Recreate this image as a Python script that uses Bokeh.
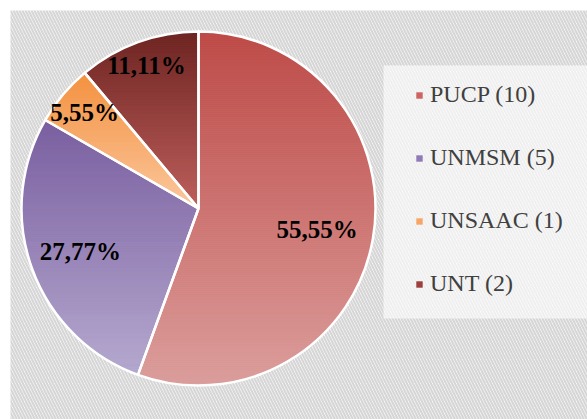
import numpy as np
from bokeh.plotting import figure
from bokeh.models import Range1d, BoxAnnotation, Legend, LegendItem, ColumnDataSource
from bokeh.core.properties import value
from bokeh.embed import file_html
from bokeh.resources import INLINE

# ---- data ----
categories = ["PUCP", "UNMSM", "UNSAAC", "UNT"]
counts = [10, 5, 1, 2]
percent_labels = ["55,55%", "27,77%", "5,55%", "11,11%"]

# ---- styles ----
top_colors = ["#BE4B48", "#7A5FA0", "#F4913F", "#6E2522"]
bottom_colors = ["#DC9F9D", "#B5A9CF", "#FBC89E", "#BE605D"]
mid_colors = ["#CD6461", "#8E7BB6", "#F8A668", "#9C403E"]
label_r_frac = [0.68, 0.71, 0.84, 0.86]

W, H = 587, 419
CX, CY, R = 198, 211, 177

p = figure(width=W, height=H, x_range=Range1d(0, W), y_range=Range1d(0, H),
           output_backend="svg", toolbar_location=None, min_border=0,
           x_axis_location=None, y_axis_location=None)
p.grid.visible = False
p.outline_line_color = None
p.background_fill_color = "white"
p.border_fill_color = "white"

# hatched background
p.add_layout(BoxAnnotation(level="underlay", left=10, right=W, bottom=0, top=H - 10,
                           fill_color="white", fill_alpha=1.0,
                           line_color=None, hatch_pattern="left_diagonal_line",
                           hatch_color="#d6d6d6", hatch_weight=2.2, hatch_scale=6))
# legend panel (lighter)
p.add_layout(BoxAnnotation(level="underlay", left=383, right=W, top=354, bottom=101,
                           fill_color="white", fill_alpha=0.62, line_color=None))

vals = np.array(counts, dtype=float)
frac = vals / vals.sum()
cum = np.concatenate([[0], np.cumsum(frac)])
start = np.pi / 2 - 2 * np.pi * cum[:-1]
end = np.pi / 2 - 2 * np.pi * cum[1:]

src = ColumnDataSource(dict(cat=categories, start=start, end=end, color=mid_colors,
                            x=[CX] * 4, y=[CY] * 4))
base = p.wedge(x="x", y="y", radius=R, start_angle="start", end_angle="end",
               direction="clock", fill_color="color", line_color=None, source=src)


def hex2rgb(h):
    h = h.lstrip("#")
    return np.array([int(h[i:i + 2], 16) for i in (0, 2, 4)], dtype=float)


def clip(poly, y0, keep_above):
    out = []
    n = len(poly)
    for i in range(n):
        P = poly[i]
        Q = poly[(i + 1) % n]
        inP = P[1] >= y0 if keep_above else P[1] <= y0
        inQ = Q[1] >= y0 if keep_above else Q[1] <= y0
        if inP:
            out.append(P)
        if inP != inQ:
            t = (y0 - P[1]) / (Q[1] - P[1])
            out.append((P[0] + t * (Q[0] - P[0]), y0))
    return out


gxs, gys, gcols = [], [], []
for i in range(len(categories)):
    a = np.linspace(start[i], end[i], 240)
    poly = [(CX, CY)] + [(CX + R * np.cos(t), CY + R * np.sin(t)) for t in a]
    ys = [q[1] for q in poly]
    ymin, ymax = min(ys), max(ys)
    nb = int(np.ceil((ymax - ymin) / 2.0))
    c0, c1 = hex2rgb(top_colors[i]), hex2rgb(bottom_colors[i])
    for b in range(nb):
        y1 = ymax - b * (ymax - ymin) / nb
        y0 = ymax - (b + 1) * (ymax - ymin) / nb
        part = clip(clip(poly, y0, True), y1, False)
        if len(part) < 3:
            continue
        t = (b + 0.5) / nb
        c = c0 + (c1 - c0) * t
        col = "#%02x%02x%02x" % tuple(int(round(v)) for v in c)
        gxs.append([q[0] for q in part])
        gys.append([q[1] for q in part])
        gcols.append(col)

p.patches(gxs, gys, fill_color=gcols, line_color=gcols, line_width=0.8)

# white separators / rim
p.wedge(x="x", y="y", radius=R, start_angle="start", end_angle="end",
        direction="clock", fill_alpha=0, line_color="white", line_width=2.5, source=src)

# percentage labels
mid = (start + end) / 2
lr = np.array(label_r_frac) * R
lx = CX + lr * np.cos(mid)
ly = CY + lr * np.sin(mid)
p.text(x=lx, y=ly, text=percent_labels, text_font=value("Liberation Serif"),
       text_font_style="bold", text_font_size="25px", text_align="center",
       text_baseline="middle", text_color="black")

items = [LegendItem(label=f"{c} ({n})", renderers=[base], index=i)
         for i, (c, n) in enumerate(zip(categories, counts))]
legend = Legend(items=items, location=(415, 122), label_text_font="Liberation Serif",
                label_text_font_size="24px", label_text_color="#404040",
                glyph_width=8, glyph_height=8, spacing=36, padding=0, margin=0,
                label_standoff=7, background_fill_alpha=0, border_line_color=None)
p.add_layout(legend)

open("out.html", "w").write(file_html(p, INLINE))
